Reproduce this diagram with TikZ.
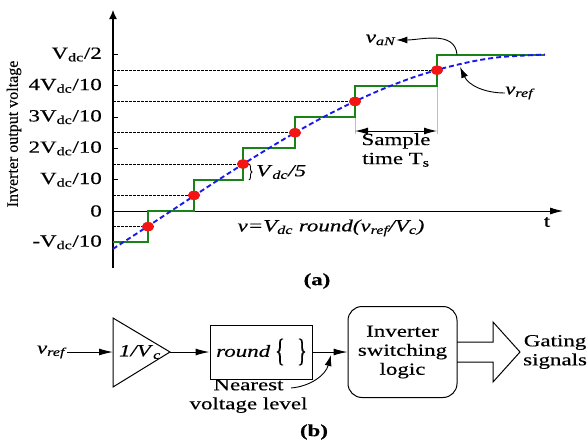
\documentclass[tikz,border=0pt]{standalone}
\usepackage{fontspec}
\setmainfont{Liberation Serif}[FakeBold=0.35]
\usepackage{graphicx}
\usetikzlibrary{arrows.meta,decorations.pathreplacing,shapes.geometric}
\definecolor{stepgreen}{RGB}{25,130,25}
\definecolor{refblue}{RGB}{25,25,235}
\definecolor{dotred}{RGB}{245,20,20}
\newcommand\stretchx[1]{\scalebox{1.35}[1]{#1}}
\newcommand\sbs[1]{\textsubscript{#1}}
\begin{document}
\begin{tikzpicture}[x=1pt,y=-1pt,
  lbl/.style={inner sep=0pt, font=\fontsize{17}{19}\selectfont, align=center},
  ylbl/.style={lbl, anchor=east},
  grn/.style={draw=stepgreen, line width=2pt},
  refcurve/.style={draw=refblue, line width=1.9pt, dash pattern=on 5pt off 3pt},
  dotline/.style={draw=black, line width=0.8pt, dash pattern=on 2.5pt off 1.5pt},
  sdot/.style={ellipse, fill=dotred, minimum width=12pt, minimum height=9pt, inner sep=0pt},
  guide/.style={draw=black!25, line width=0.8pt},
  arr/.style={line width=1pt, -{Latex[length=14pt,width=7pt]}},
  carr/.style={line width=0.9pt, -{Latex[length=11pt,width=7pt]}},
  blk/.style={draw, line width=1pt, inner sep=0pt}]
\useasboundingbox (0,0) rectangle (587,442);

% ---------- (a) ----------
\coordinate (O) at (113,211);
\coordinate (ytop) at (113,10);
\coordinate (ybot) at (113,268);
\coordinate (xend) at (563,211);
\draw[line width=1.2pt, -{Latex[length=9pt,width=8pt]}] (ybot) -- (ytop);
\draw[line width=0.8pt, -{Latex[length=13pt,width=7pt]}] (O) -- (xend);
\foreach \yy in {54.5,85.8,117.1,148.4,179.7}
  \draw[line width=0.8pt] (113,\yy) -- (118,\yy);
\node[lbl] (tlab) at (547,222) {\stretchx{t}};

\node[lbl, rotate=90, font=\fontsize{16}{16}\selectfont] (ylab) at (14,134) {Inverter output voltage};
\node[ylbl] (l5) at (102,54.5) {\stretchx{V\sbs{dc}/2}};
\node[ylbl] (l4) at (102,85.8) {\stretchx{4V\sbs{dc}/10}};
\node[ylbl] (l3) at (102,117.1) {\stretchx{3V\sbs{dc}/10}};
\node[ylbl] (l2) at (102,148.4) {\stretchx{2V\sbs{dc}/10}};
\node[ylbl] (l1) at (102,179.7) {\stretchx{V\sbs{dc}/10}};
\node[ylbl] (l0) at (102,211) {\stretchx{0}};
\node[ylbl] (lm1) at (102,242.3) {\stretchx{-V\sbs{dc}/10}};

% sample dots
\node[sdot] (d1) at (148,226.65) {};
\node[sdot] (d2) at (194,195.35) {};
\node[sdot] (d3) at (243,164.05) {};
\node[sdot] (d4) at (295,132.75) {};
\node[sdot] (d5) at (355,101.45) {};
\node[sdot] (d6) at (437,70.15) {};

% dotted half-level lines
\draw[dotline] (113,226.65) -- (d1.center);
\draw[dotline] (113,195.35) -- (d2.center);
\draw[dotline] (113,164.05) -- (d3.center);
\draw[dotline] (113,132.75) -- (d4.center);
\draw[dotline] (113,101.45) -- (d5.center);
\draw[dotline] (113,70.15) -- (d6.center);

% sample time guides
\draw[guide] (355,117.1) -- (355,134);
\draw[guide] (437,85.8) -- (437,134);
\coordinate (s1) at (355,131);
\coordinate (s2) at (437,131);
\draw[line width=1pt, {Latex[length=13pt,width=7pt]}-{Latex[length=13pt,width=7pt]}] (s1) -- (s2);
\node[lbl] (stime) at (396,150) {\stretchx{Sample}\\\stretchx{time T\sbs{s}}};

% staircase
\draw[grn] (113,242.3) -- (148,242.3) -- (148,211) -- (194,211) -- (194,179.7)
  -- (243,179.7) -- (243,148.4) -- (295,148.4) -- (295,117.1) -- (355,117.1)
  -- (355,85.8) -- (437,85.8) -- (437,54.5) -- (545,54.5);

% reference
\draw[refcurve] plot[smooth] coordinates {(113,248.9) (140,231.4) (170,211.7) (200,191.9)
  (230,172.4) (260,153.6) (290,135.6) (320,118.9) (350,103.7) (380,90.2) (410,78.5)
  (440,69.1) (470,61.9) (500,57.1) (545,54.5)};

% dots on top
\foreach \n in {d1,d2,d3,d4,d5,d6} \fill[dotred] (\n) ellipse (6pt and 4.5pt);

% brace
\draw[line width=0.9pt, decorate, decoration={brace, amplitude=3pt}] (249,164) -- (249,180);
\node[lbl, anchor=west] (v5) at (256,172) {\stretchx{\textit{V}\sbs{\textit{dc}}\textit{/5}}};

% formula
\node[lbl] (formula) at (331,228) {\stretchx{\itshape v=V\sbs{dc} round(v\sbs{ref}/V\sbs{c})}};

% labels v_aN, v_ref
\node[lbl] (vaN) at (381,40) {\stretchx{\textit{v}\sbs{\textit{aN}}}};
\coordinate (aNsrc) at (457,54.5);
\draw[carr] (aNsrc) to[out=95,in=0] (vaN.east);
\node[lbl, anchor=west] (vrefa) at (505,93) {\stretchx{\textit{v}\sbs{\textit{ref}}}};
\coordinate (refttip) at (460,67);
\draw[carr] (vrefa.west) to[out=180,in=-65] (refttip);

\node[lbl] (capa) at (317,281) {\stretchx{\textbf{(a)}}};

% ---------- (b) ----------
\node[lbl] (vr) at (52,352) {\stretchx{\textit{v}\sbs{\textit{ref}}}};
\coordinate (gin) at (113,352);
\coordinate (gapex) at (170,352);
\draw[line width=1pt] (113,318) -- (gapex) -- (113,387) -- cycle;
\node[lbl] (gain) at (140,352) {\stretchx{\textit{1/V}\sbs{\textit{c}}}};
\draw[arr] (vr.east) -- (gin);

\node[blk, minimum width=102pt, minimum height=54pt] (rnd) at (261,352) {};
\node[lbl, anchor=west] (rtxt) at (216,351) {\stretchx{\textit{round}}};
\node[lbl] (lbr) at (280,352) {\scalebox{1.2}[1.9]{\{}};
\node[lbl] (rbr) at (302,352) {\scalebox{1.2}[1.9]{\}}};
\draw[arr] (gapex) -- (rnd.west);

\node[blk, rounded corners=14pt, minimum width=109pt, minimum height=91pt] (isl) at (402.5,352) {};
\node[lbl] (isltxt) at (402.5,352) {\stretchx{Inverter}\\\stretchx{switching}\\\stretchx{logic}};
\draw[arr] (rnd.east) -- (isl.west);

\node[lbl] (nv) at (248.5,396) {\stretchx{Nearest}\\\stretchx{voltage level}};
\coordinate (nvs) at (291,388);
\coordinate (ntip) at (331,355);
\draw[carr] (nvs) to[out=5,in=-105] (ntip);

\coordinate (gtip) at (520,352);
\draw[line width=1pt] (457,342) -- (493,342) -- (493,322) -- (gtip) -- (493,382) -- (493,362) -- (457,362);
\node[lbl, anchor=west] (gate) at (523,352) {\stretchx{Gating}\\\stretchx{signals}};

\node[lbl] (capb) at (314,432) {\stretchx{\textbf{(b)}}};
\end{tikzpicture}
\end{document}
